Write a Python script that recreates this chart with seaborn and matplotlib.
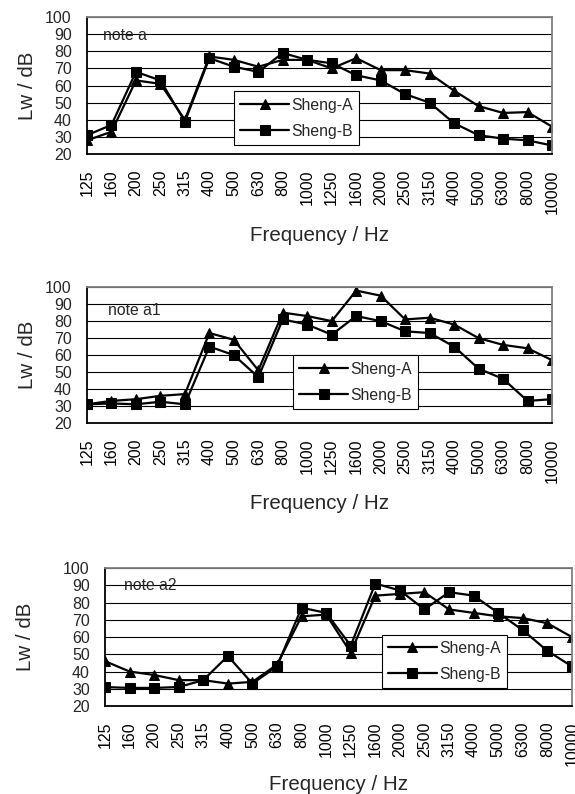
import numpy as np
import pandas as pd
import seaborn as sns
sns.set_style("white")

import matplotlib
matplotlib.use("Agg")
import matplotlib.pyplot as plt

plt.rcParams['font.family'] = ['Liberation Sans', 'DejaVu Sans']

freqs = ["125", "160", "200", "250", "315", "400", "500", "630", "800", "1000",
         "1250", "1600", "2000", "2500", "3150", "4000", "5000", "6300", "8000", "10000"]

# note a
a_sheng_a = [28, 33, 63, 61, 40, 77, 75, 71, 75, 75, 70, 76, 69, 69, 67, 57, 48, 44, 44.5, 36]
a_sheng_b = [31, 37, 68, 63, 39, 76, 71, 68, 79, 75, 73, 66, 63, 55, 50, 38, 31, 29, 28, 25]

# note a1
a1_sheng_a = [31, 33, 34, 36, 37, 73, 69, 51, 85, 83, 80, 98, 95, 81, 82, 78, 70, 66, 64, 57]
a1_sheng_b = [31, 31.5, 31, 32.5, 31, 65, 60, 47, 81, 78, 72, 83, 80, 74, 73, 65, 52, 46, 33, 34]

# note a2
a2_sheng_a = [46, 40, 38, 35, 35, 33, 34, 44, 72, 73, 51, 84, 85, 86, 76, 74, 72, 71, 68, 60]
a2_sheng_b = [31, 30.5, 30.5, 31, 35, 49, 33, 43, 77, 74, 55, 91, 87, 76, 86, 84, 74, 64, 52, 43]

yticks = list(range(20, 101, 10))

panels = [
    # (note, A, B, axes rect, legend anchor, note pos, ylabel x, xlabel y)
    ("note a", a_sheng_a, a_sheng_b, [0.1513, 0.806, 0.8087, 0.1725], (0.316, 0.066), (0.034, 0.865), -0.108, -0.525),
    ("note a1", a1_sheng_a, a1_sheng_b, [0.1513, 0.4673, 0.8087, 0.171], (0.443, 0.103), (0.045, 0.83), -0.108, -0.525),
    ("note a2", a2_sheng_a, a2_sheng_b, [0.1826, 0.1108, 0.812, 0.1738], (0.593, 0.13), (0.041, 0.873), -0.15, -0.50),
]


def draw_panel(fig, note, vals_a, vals_b, rect, leg_anchor, note_pos, ylab_x, xlab_y):
    ax = fig.add_axes(rect)
    df = pd.DataFrame({"pos": np.arange(len(freqs)), "A": vals_a, "B": vals_b})
    sns.lineplot(data=df, x="pos", y="A", ax=ax, color="black", linewidth=1.6,
                 marker="^", markersize=7.5, markeredgecolor="black", label="Sheng-A")
    sns.lineplot(data=df, x="pos", y="B", ax=ax, color="black", linewidth=1.6,
                 marker="s", markersize=6.5, markeredgecolor="black", label="Sheng-B")

    ax.set_xlim(0, len(freqs) - 1)
    ax.set_ylim(20, 100)
    ax.set_yticks(yticks)
    ax.set_xticks(np.arange(len(freqs)))
    ax.set_xticklabels(freqs, rotation=90, fontsize=11.5)
    ax.tick_params(axis="x", direction="in", length=4, width=1, pad=11, colors="black")
    ax.tick_params(axis="y", length=0, pad=11, labelsize=11.5)
    ax.grid(axis="y", color="black", linewidth=0.8)
    ax.grid(axis="x", visible=False)

    for side in ["left", "bottom"]:
        ax.spines[side].set_color("black")
        ax.spines[side].set_linewidth(1.3)
    for side in ["top", "right"]:
        ax.spines[side].set_color("#808080")
        ax.spines[side].set_linewidth(1.3)

    ax.set_xlabel("Frequency / Hz", fontsize=14.8)
    ax.set_ylabel("Lw / dB", fontsize=14.8)
    ax.xaxis.set_label_coords(0.5, xlab_y)
    ax.xaxis.label.set_va("top")
    ax.yaxis.set_label_coords(ylab_x, 0.5)

    ax.text(note_pos[0], note_pos[1], note, transform=ax.transAxes,
            fontsize=11.3, va="center", ha="left")

    leg = ax.legend(loc="lower left", bbox_to_anchor=leg_anchor, frameon=True,
                    fancybox=False, edgecolor="black", framealpha=1, fontsize=11.3,
                    handlelength=3.1, handletextpad=0.15, borderpad=0.4,
                    labelspacing=0.7, borderaxespad=0)
    leg.get_frame().set_linewidth(0.8)
    return ax


def main():
    fig = plt.figure(figsize=(5.75, 7.94), dpi=100)
    for p in panels:
        draw_panel(fig, *p)
    fig.savefig("out.png", dpi=100, facecolor="white")
    plt.close(fig)


if __name__ == '__main__':
    main()
